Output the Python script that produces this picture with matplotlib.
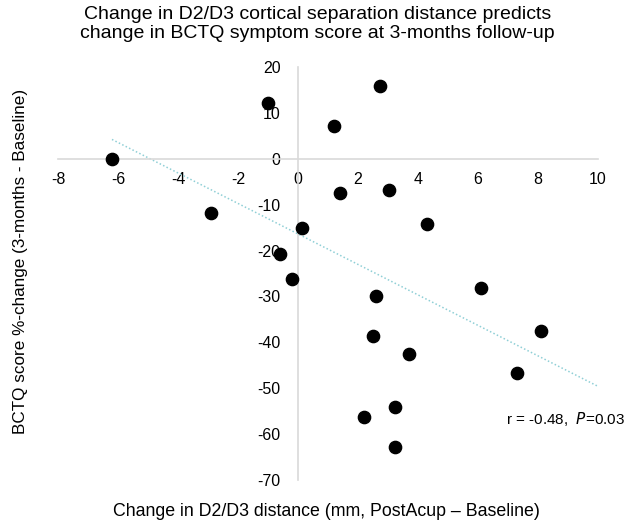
import matplotlib.pyplot as plt
import numpy as np

# change in D2/D3 distance (mm) vs BCTQ % change
dist_change = [-6.2, -1.0, 1.2, 2.75, -2.9, 1.4, 3.05, 4.3, 0.15, -0.6,
               -0.2, 2.6, 6.1, 2.5, 3.7, 8.1, 7.3, 3.25, 2.2, 3.25]
bctq_change = [0.0, 12.2, 7.1, 15.9, -11.9, -7.4, -6.8, -14.3, -15.0, -20.7,
               -26.3, -29.8, -28.1, -38.6, -42.5, -37.5, -46.6, -54.0, -56.3, -62.9]
x_ticks = [-8, -6, -4, -2, 0, 2, 4, 6, 8, 10]
y_ticks = [20, 10, 0, -10, -20, -30, -40, -50, -60, -70]

plt.rcParams["font.family"] = ["Liberation Sans", "DejaVu Sans"]

x = np.asarray(dist_change)
y = np.asarray(bctq_change)
slope, intercept = np.polyfit(x, y, 1)

fig = plt.figure(figsize=(6.33, 5.3), dpi=100)
ax = fig.add_axes([0.0916, 0.0943, 0.8531, 0.7793])

line_x = np.array([x.min(), x_ticks[-1]])
ax.plot(line_x, slope * line_x + intercept, color="#8fcfd6", lw=1.1, ls=(0, (1, 1.5)), zorder=2)
ax.scatter(x, y, s=78, color="black", zorder=3, clip_on=False)

ax.set_xlim(-8, 10)
ax.set_ylim(-70, 20)
for side in ["top", "right"]:
    ax.spines[side].set_visible(False)
ax.spines["left"].set_position(("data", 0))
ax.spines["bottom"].set_position(("data", 0))
for side in ["left", "bottom"]:
    ax.spines[side].set_color("#d9d9d9")
    ax.spines[side].set_linewidth(1.2)

ax.set_xticks(x_ticks)
ax.set_yticks(y_ticks)
ax.set_xticklabels([str(t) for t in x_ticks])
ax.set_yticklabels([str(t) for t in y_ticks])
ax.tick_params(axis="both", length=0, labelsize=11.5)
ax.tick_params(axis="x", pad=9.5)
ax.tick_params(axis="y", pad=12.5)

fig.text(0.502, 0.955, "Change in D2/D3 cortical separation distance predicts\n"
         "change in BCTQ symptom score at 3-months follow-up",
         ha="center", va="center", fontsize=14, linespacing=1.12)
fig.text(0.515, 0.034, "Change in D2/D3 distance (mm, PostAcup \u2013 Baseline)",
         ha="center", va="center", fontsize=12.8)
fig.text(0.032, 0.506, "BCTQ score %-change (3-months - Baseline)",
         ha="center", va="center", rotation=90, fontsize=12.3)
fig.text(0.80, 0.21, "r = -0.48,  $\\mathit{P}$=0.03", ha="left", va="center", fontsize=11)

fig.savefig("out.png", dpi=100)
